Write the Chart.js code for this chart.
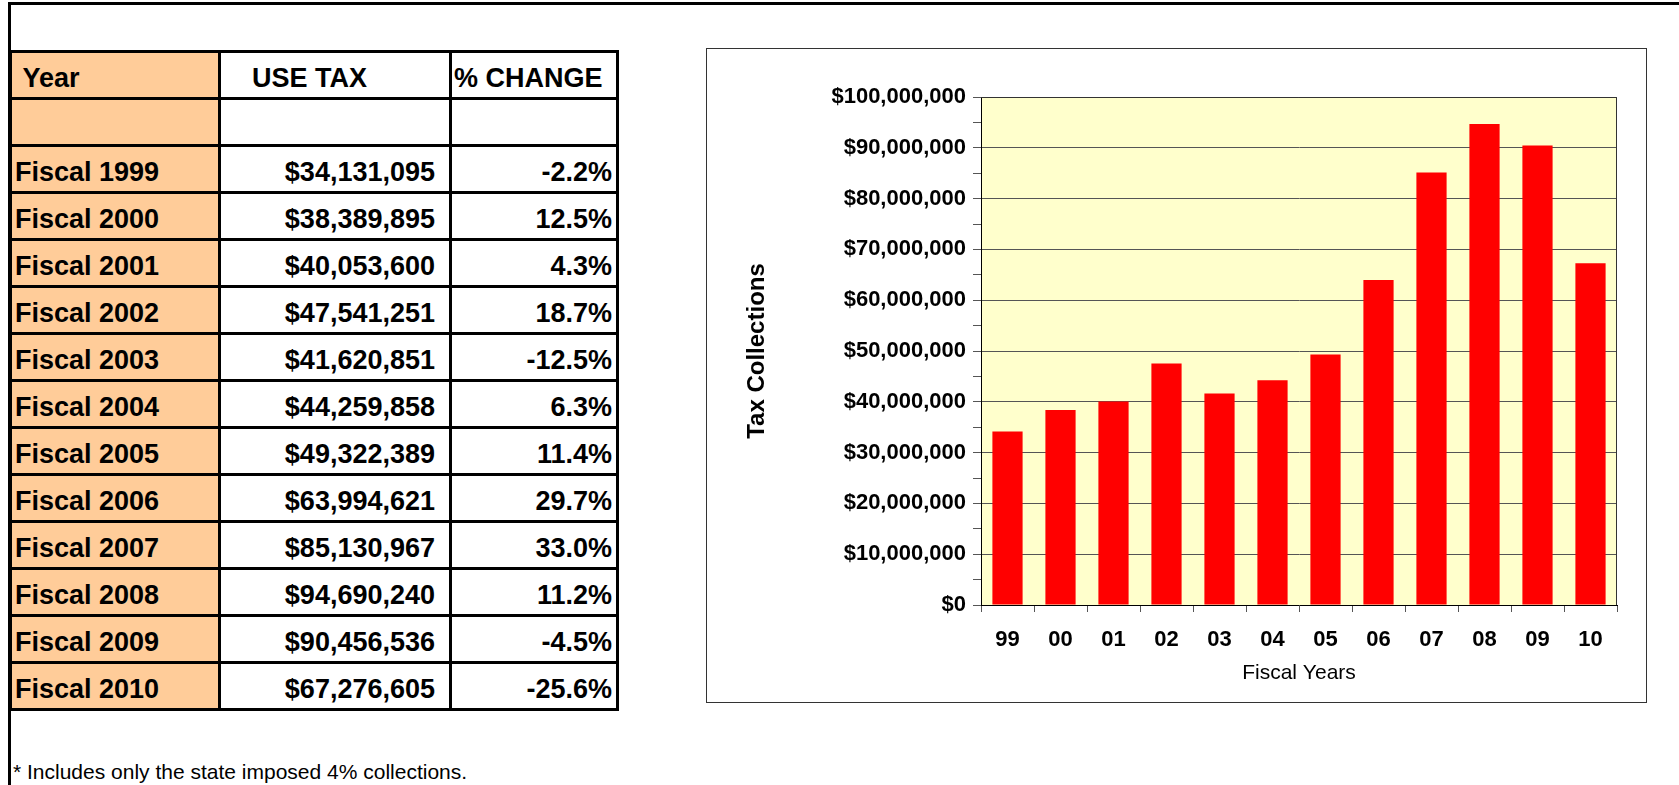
<!DOCTYPE html>
<html>
<head>
<meta charset="utf-8">
<script src="https://cdn.jsdelivr.net/npm/chart.js@4"></script>
<style>
body { margin: 0; background: #fff; font-family: Arial, "Liberation Sans", sans-serif; }
#page { position: relative; width: 1679px; height: 785px; overflow: hidden; }
#outer { position: absolute; left: 8px; top: 2px; width: 1700px; height: 800px;
  border-top: 3px solid #000; border-left: 3px solid #000; }
#tbl { position: absolute; left: 9px; top: 50px; border-collapse: collapse; table-layout: fixed; width: 607px; }
#tbl td { border: 3px solid #000; height: 41px; padding: 0 6px 3px 6px; vertical-align: bottom;
  font-weight: bold; font-size: 27px; white-space: nowrap; overflow: hidden; }
#tbl td.yr { background: #FFCC99; padding-left: 3px; }
#tbl td.tax { text-align: right; padding-right: 14px; }
#tbl td.pct { text-align: right; padding-right: 4px; }
#note { position: absolute; left: 13px; top: 760px; font-size: 21px; }
#frame { position: absolute; left: 706px; top: 48px; width: 941px; height: 655px; }
#frameLine { position: absolute; left: 706px; top: 48px; width: 939px; height: 653px;
  border: 1px solid #333; pointer-events: none; }
</style>
</head>
<body>
<div id="page">
  <div id="outer"></div>
  <table id="tbl">
    <colgroup><col style="width:209px"><col style="width:231px"><col style="width:167px"></colgroup>
    <tbody id="rows"></tbody>
  </table>
  <div id="note">* Includes only the state imposed 4% collections.</div>
  <div id="frame"><canvas id="taxChart" width="941" height="655"></canvas></div>
  <div id="frameLine"></div>
</div>
<script>
const fiscalYears = ["1999", "2000", "2001", "2002", "2003", "2004", "2005", "2006", "2007", "2008", "2009", "2010"];
const yearLabels = ["99", "00", "01", "02", "03", "04", "05", "06", "07", "08", "09", "10"];
const useTax = [34131095, 38389895, 40053600, 47541251, 41620851, 44259858, 49322389, 63994621, 85130967, 94690240, 90456536, 67276605];
const pctChange = ["-2.2%", "12.5%", "4.3%", "18.7%", "-12.5%", "6.3%", "11.4%", "29.7%", "33.0%", "11.2%", "-4.5%", "-25.6%"];

// table on the left
const rows = document.getElementById("rows");
let html = '<tr><td class="yr">&nbsp;Year</td><td class="tax" style="text-align:left;padding-left:31px">USE TAX</td><td class="pct" style="text-align:left;padding-left:2px">% CHANGE</td></tr>';
html += '<tr><td class="yr"></td><td class="tax"></td><td class="pct"></td></tr>';
for (let i = 0; i < fiscalYears.length; i++) {
  html += '<tr><td class="yr">Fiscal ' + fiscalYears[i] + '</td>' +
    '<td class="tax">$' + useTax[i].toLocaleString("en-US") + '</td>' +
    '<td class="pct">' + pctChange[i] + '</td></tr>';
}
rows.innerHTML = html;

Chart.defaults.font.family = 'Arial, "Liberation Sans", sans-serif';
Chart.defaults.color = "#000";

const plotBox = {
  id: "plotBox",
  beforeDraw(chart) {
    const a = chart.chartArea;
    const ctx = chart.ctx;
    ctx.save();
    ctx.fillStyle = "#FFFFCC";
    ctx.fillRect(a.left, a.top, a.right - a.left, a.bottom - a.top);
    ctx.restore();
  },
  afterDraw(chart) {
    const a = chart.chartArea;
    const ctx = chart.ctx;
    ctx.save();
    ctx.strokeStyle = "#333";
    ctx.lineWidth = 1;
    ctx.beginPath();
    ctx.moveTo(a.left, a.top + 0.5);
    ctx.lineTo(a.right - 0.5, a.top + 0.5);
    ctx.lineTo(a.right - 0.5, a.bottom);
    ctx.stroke();
    ctx.restore();
  }
};

new Chart(document.getElementById("taxChart"), {
  type: "bar",
  data: {
    labels: yearLabels,
    datasets: [{
      data: useTax,
      backgroundColor: "#FF0000",
      borderWidth: 0,
      barPercentage: 0.57,
      categoryPercentage: 1
    }]
  },
  options: {
    responsive: false,
    animation: false,
    layout: { padding: { top: 49, right: 30, left: 0, bottom: 0 } },
    plugins: { legend: { display: false }, tooltip: { enabled: false } },
    scales: {
      x: {
        afterFit(scale) { scale.height = 98; },
        border: { color: "#000", width: 1 },
        grid: { offset: true, drawOnChartArea: false, tickLength: 7, tickColor: "#555" },
        ticks: { font: { size: 22, weight: "bold" }, padding: 15, maxRotation: 0 },
        title: { display: true, text: "Fiscal Years", font: { size: 21 }, padding: { top: 0, bottom: 17 } }
      },
      y: {
        min: 0,
        max: 100000000,
        afterFit(scale) { scale.width = 275; },
        border: { color: "#000", width: 1 },
        grid: {
          color: (c) => (c.tick && c.tick.value % 10000000 === 0 && c.tick.value > 0) ? "#555" : "rgba(0,0,0,0)",
          tickColor: "#555",
          tickLength: 8
        },
        ticks: {
          stepSize: 5000000,
          autoSkip: false,
          padding: 7,
          font: { size: 22, weight: "bold" },
          callback: (v) => v % 10000000 === 0 ? "$" + v.toLocaleString("en-US") : ""
        },
        title: { display: true, text: "Tax Collections", font: { size: 24, weight: "bold" }, padding: { top: 37 } }
      }
    }
  },
  plugins: [plotBox]
});
</script>
</body>
</html>
